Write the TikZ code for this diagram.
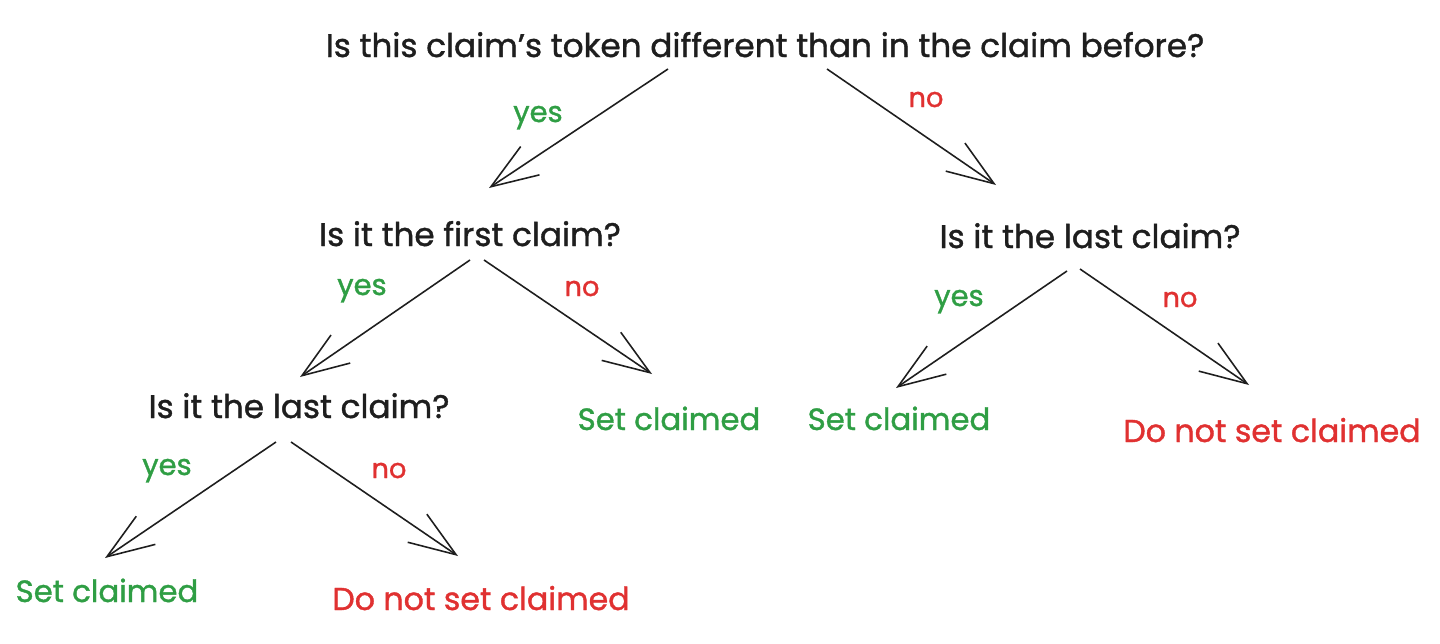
\documentclass[tikz,border=0pt]{standalone}
\usepackage{fontspec}
\setmainfont{Poppins}[FakeBold=1.2]
\usetikzlibrary{arrows.meta,calc}
\definecolor{inkblack}{HTML}{1E1E1E}
\definecolor{inkgreen}{HTML}{2F9E44}
\definecolor{inkred}{HTML}{E03131}
\tikzset{
  question/.style={anchor=base,inner sep=0pt,text=inkblack,font=\fontsize{18.6}{22}\selectfont},
  answeryes/.style={anchor=base,inner sep=0pt,text=inkgreen,font=\fontsize{17.5}{21}\selectfont},
  answerno/.style={anchor=base,inner sep=0pt,text=inkred,font=\fontsize{18}{21}\selectfont},
  labyes/.style={anchor=base,inner sep=0pt,text=inkgreen,font=\fontsize{16.5}{19}\selectfont},
  labno/.style={anchor=base,inner sep=0pt,text=inkred,font=\fontsize{15.5}{18}\selectfont},
  branch/.style={draw=inkblack,line width=0.9pt,-{Straight Barb[length=0.94cm,width=0.68cm,line width=0.9pt]}}
}
\begin{document}
\begin{tikzpicture}[x=0.02cm,y=-0.02cm]
\useasboundingbox (0,0) rectangle (1440,643);
% questions
\node[question] (root) at (765,57) {Is this claim's token different than in the claim before?};
\node[question] (first) at (470,246) {Is it the first claim?};
\node[question] (lastR) at (1090,248) {Is it the last claim?};
\node[question] (lastL) at (299,418) {Is it the last claim?};
% outcomes
\node[answeryes] (setA) at (669,430) {Set claimed};
\node[answeryes] (setB) at (899,430) {Set claimed};
\node[answerno] (dontA) at (1272,442) {Do not set claimed};
\node[answeryes] (setC) at (107,602) {Set claimed};
\node[answerno] (dontB) at (481,610) {Do not set claimed};
% branches
\draw[branch] ($(root.base)+(-97,12)$) -- ($(first.base)+(19,-58)$);
\draw[branch] ($(root.base)+(62,12)$) -- ($(lastR.base)+(-94,-63)$);
\draw[branch] ($(first.base)+(0,14)$) -- ($(lastL.base)+(1,-41)$);
\draw[branch] ($(first.base)+(14,14)$) -- ($(setA.base)+(-17,-56)$);
\draw[branch] ($(lastR.base)+(-23,23)$) -- ($(setB.base)+(-3,-42)$);
\draw[branch] ($(lastR.base)+(-10,21)$) -- ($(dontA.base)+(-23,-57)$);
\draw[branch] ($(lastL.base)+(-23,24)$) -- ($(setC.base)+(-2,-44)$);
\draw[branch] ($(lastL.base)+(-8,24)$) -- ($(dontB.base)+(-23,-54)$);
% branch labels
\node[labyes] (y1) at (538,122) {yes};
\node[labno] (n1) at (926,107) {no};
\node[labyes] (y2) at (362,295) {yes};
\node[labno] (n2) at (582,296) {no};
\node[labyes] (y3) at (959,306) {yes};
\node[labno] (n3) at (1180,307) {no};
\node[labyes] (y4) at (167,475) {yes};
\node[labno] (n4) at (389,478) {no};
\end{tikzpicture}
\end{document}
